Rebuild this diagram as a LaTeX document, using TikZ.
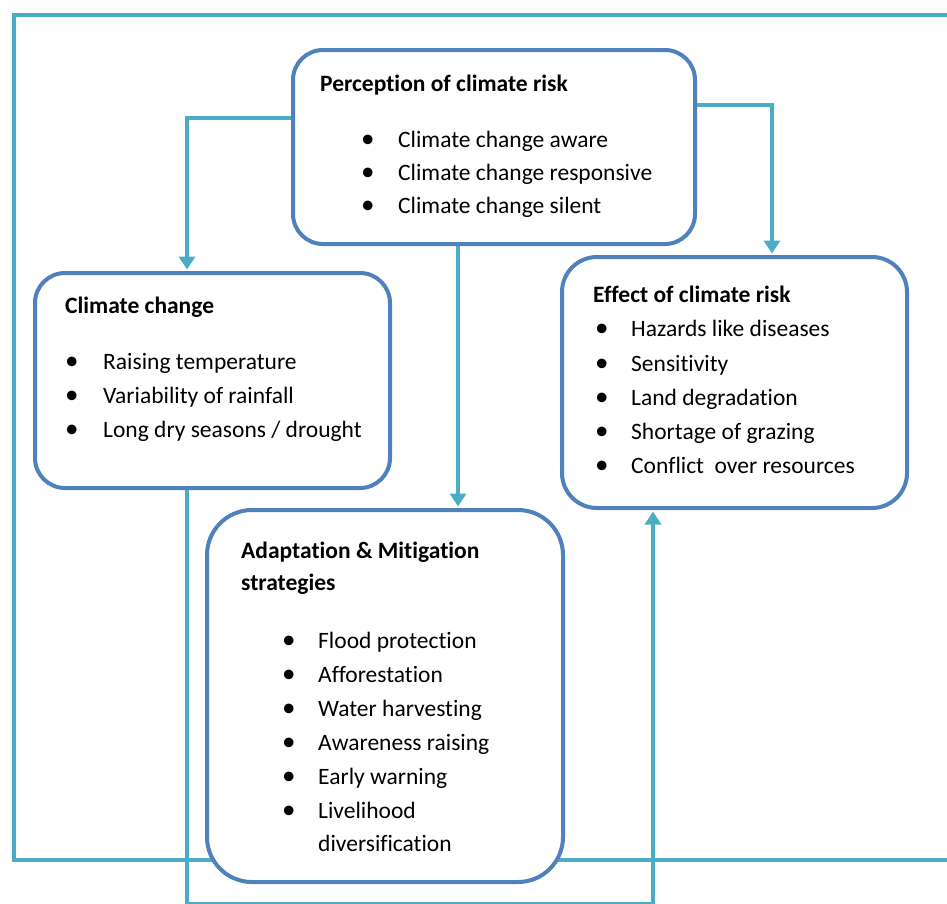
\documentclass[tikz,border=0pt]{standalone}
\usepackage{fontspec}
\setmainfont{Carlito}[Ligatures=NoCommon]
\usetikzlibrary{arrows.meta}
\definecolor{teal1}{HTML}{4BACC6}
\definecolor{boxblue}{HTML}{4F81BD}
\begin{document}
\begin{tikzpicture}[x=1pt,y=-1pt,
  box/.style={draw=boxblue, line width=4pt, fill=white, rounded corners=#1, inner sep=0pt},
  conn/.style={draw=teal1, line width=3.5pt},
  arr/.style={conn, -{Triangle[width=16pt,length=13pt]}, shorten >=1.5pt},
  txt/.style={anchor=base west, inner sep=0pt, font=\fontsize{23.5}{28}\selectfont},
  ttl/.style={txt, font=\fontsize{23.5}{28}\selectfont\bfseries}]
\useasboundingbox[fill=white] (0,0) rectangle (947,903);
% outer frame
\coordinate (ftr) at (947,15);
\coordinate (ftl) at (14,15);
\coordinate (fbl) at (14,860);
\coordinate (fbr) at (947,860);
\draw[conn] (ftr) -- (ftl) -- (fbl) -- (fbr);
% boxes
\node[box=30pt, minimum width=402pt, minimum height=194pt] (perc) at (494,147) {};
\node[box=30pt, minimum width=355pt, minimum height=215pt] (cc) at (212.5,380.5) {};
\node[box=35pt, minimum width=345pt, minimum height=251pt] (eff) at (734.5,382.5) {};
\node[box=45pt, minimum width=356pt, minimum height=372pt] (ad) at (385,696) {};
% texts
\newcommand\bl[2]{\makebox[#1][l]{\raisebox{0pt}{\scalebox{1.15}{•}}}#2}
\node[ttl] (pt) at (320,91) {Perception of climate risk};
\node[txt] (p1) at (361,147) {\bl{37pt}{Climate change aware}};
\node[txt] (p2) at (361,180) {\bl{37pt}{Climate change responsive}};
\node[txt] (p3) at (361,213) {\bl{37pt}{Climate change silent}};
\node[ttl] (ct) at (65,313) {Climate change};
\node[txt] (c1) at (65,369) {\bl{38pt}{Raising temperature}};
\node[txt] (c2) at (65,403) {\bl{38pt}{Variability of rainfall}};
\node[txt] (c3) at (65,437) {\bl{38pt}{Long dry seasons / drought}};
\node[ttl] (et) at (593,302) {Effect of climate risk};
\node[txt] (e1) at (595,336) {\bl{36pt}{Hazards like diseases}};
\node[txt] (e2) at (595,371) {\bl{36pt}{Sensitivity}};
\node[txt] (e3) at (595,405) {\bl{36pt}{Land degradation}};
\node[txt] (e4) at (595,439) {\bl{36pt}{Shortage of grazing}};
\node[txt] (e5) at (595,473) {\bl{36pt}{Conflict\ \ over resources}};
\node[ttl] (at1) at (241,558) {Adaptation \& Mitigation};
\node[ttl] (at2) at (241,590) {strategies};
\node[txt] (a1) at (282,648) {\bl{36pt}{Flood protection}};
\node[txt] (a2) at (282,682) {\bl{36pt}{Afforestation}};
\node[txt] (a3) at (282,716) {\bl{36pt}{Water harvesting}};
\node[txt] (a4) at (282,750) {\bl{36pt}{Awareness raising}};
\node[txt] (a5) at (282,784) {\bl{36pt}{Early warning}};
\node[txt] (a6) at (282,818) {\bl{36pt}{Livelihood}};
\node[txt] (a7) at (318,851) {diversification};
% connectors
\draw[arr] ([yshift=29pt]perc.west) -| ([xshift=-25.5pt]cc.north);
\draw[arr] ([yshift=42pt]perc.east) -| ([xshift=37.5pt]eff.north);
\draw[arr] ([xshift=-36pt]perc.south) -- ([xshift=73pt]ad.north);
\coordinate (bbl) at (187,904.2);
\coordinate (bbr) at (653,904.2);
\draw[conn] ([xshift=-25.5pt]cc.south) -- (bbl) -- (bbr);
\draw[arr] (bbr) -- ([xshift=-81.5pt]eff.south);
\end{tikzpicture}
\end{document}
